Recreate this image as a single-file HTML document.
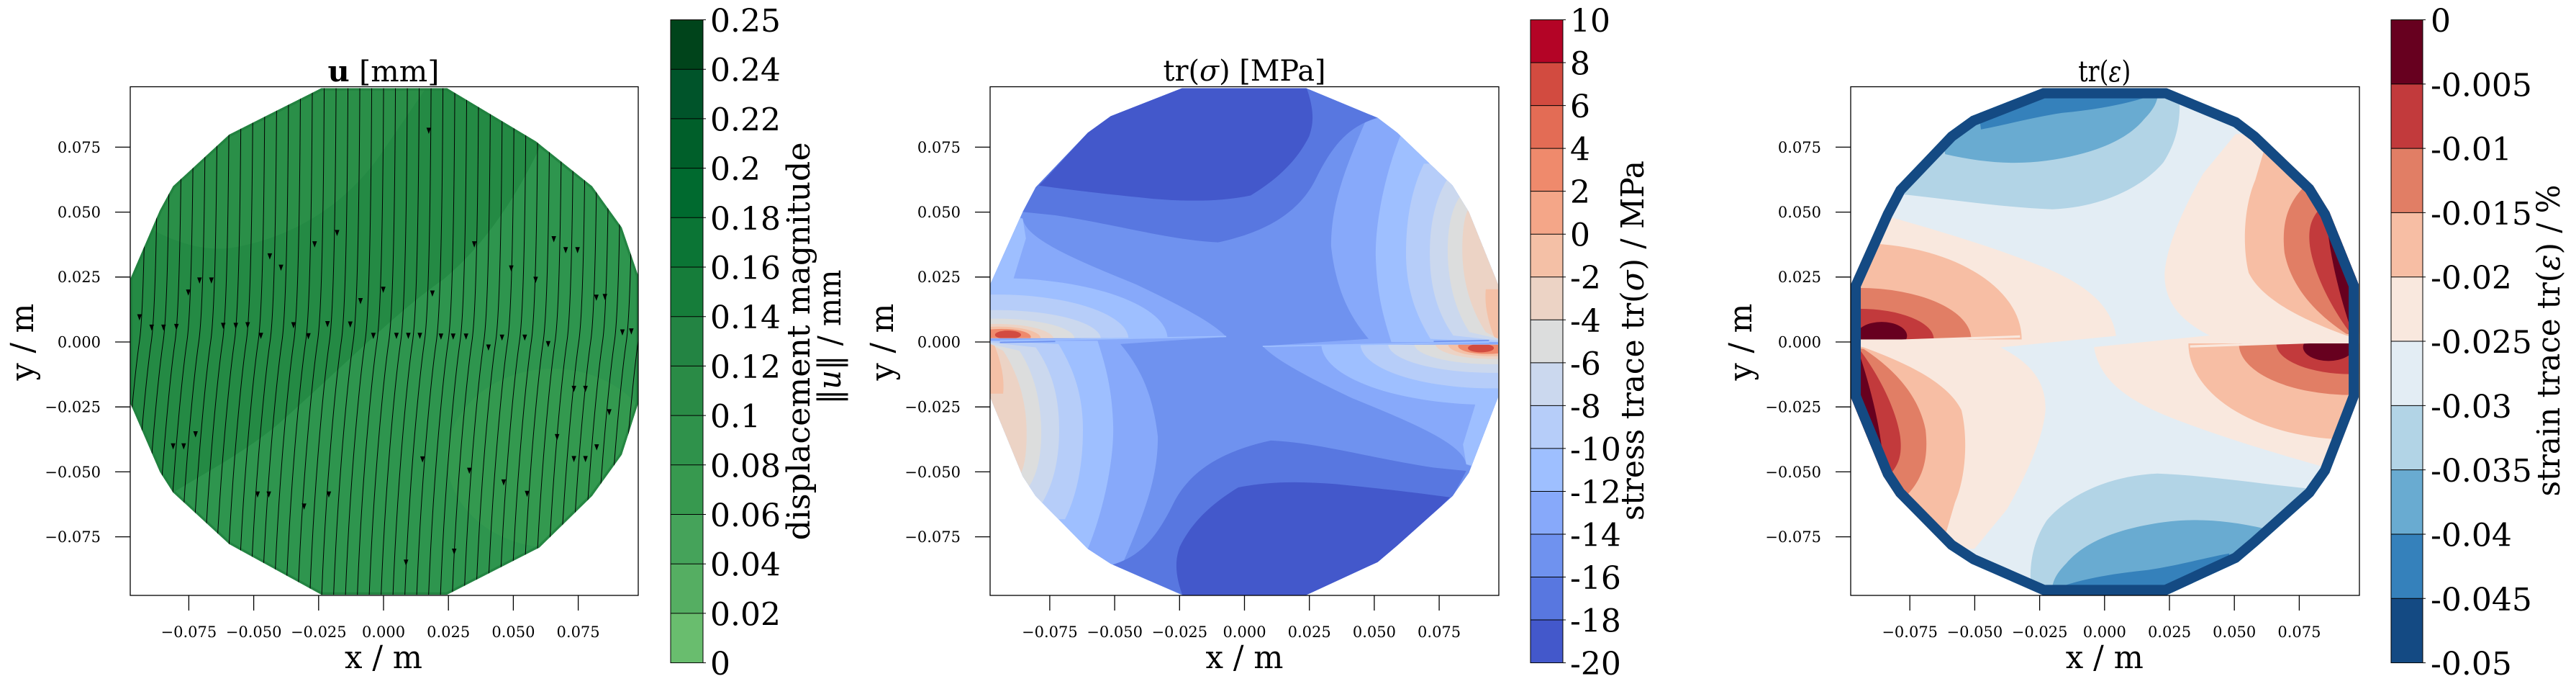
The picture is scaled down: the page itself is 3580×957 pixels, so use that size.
<!DOCTYPE html>
<html><head><meta charset="utf-8"><style>
html,body{margin:0;padding:0;background:#fff;}
body{width:3580px;height:957px;position:relative;overflow:hidden;}
svg{position:absolute;}
text{font-family:"DejaVu Serif","Liberation Serif",serif;fill:#000;}
</style></head><body>

<!-- Panel 1 field -->
<svg style="left:181px;top:120.5px" width="706" height="706.5" viewBox="0 42 1540 1478" preserveAspectRatio="none">
<defs>
<clipPath id="c1"><polygon points="580,45 960,45 1230,200 1400,330 1490,450 1540,590 1540,960 1490,1110 1400,1230 1240,1380 960,1517 580,1517 300,1370 130,1220 90,1160 0,960 0,600 90,400 130,330 300,180"/></clipPath>
<path id="sl" d="M20,40 C18,400 12,700 0,780 S-45,1150 -60,1530" fill="none" stroke="#000" stroke-width="2.2"/>
<path id="ar" d="M-7,-10 L7,-10 L0,8 Z" fill="#000"/>
</defs>
<g clip-path="url(#c1)">
<rect x="0" y="40" width="1540" height="1480" fill="#2e954e"/>
<path fill="#2a8f48" d="M0,40 L0,420 C100,480 200,520 300,510 C500,480 650,380 750,250 L900,40 Z"/>
<path fill="#248a44" d="M0,420 C100,480 200,520 300,510 C500,480 650,380 750,250 L900,40 L1320,40 L1240,220 C1150,400 1050,520 950,600 C800,700 650,850 450,1020 C350,1100 250,1150 130,1220 L0,1220 Z"/>
<ellipse cx="1280" cy="1120" rx="320" ry="260" fill="#33994f"/>
<polygon points="580,45 960,45 1230,200 1400,330 1490,450 1540,590 1540,960 1490,1110 1400,1230 1240,1380 960,1517 580,1517 300,1370 130,1220 90,1160 0,960 0,600 90,400 130,330 300,180" fill="none" stroke="#1f7d3d" stroke-width="14" stroke-opacity="0.7"/>
<use href="#sl" x="28"/><use href="#sl" x="64"/><use href="#sl" x="100"/><use href="#sl" x="136"/><use href="#sl" x="172"/><use href="#sl" x="208"/><use href="#sl" x="244"/><use href="#sl" x="280"/><use href="#sl" x="316"/><use href="#sl" x="352"/><use href="#sl" x="388"/><use href="#sl" x="424"/><use href="#sl" x="460"/><use href="#sl" x="496"/><use href="#sl" x="532"/><use href="#sl" x="568"/><use href="#sl" x="604"/><use href="#sl" x="640"/><use href="#sl" x="676"/><use href="#sl" x="712"/><use href="#sl" x="748"/><use href="#sl" x="784"/><use href="#sl" x="820"/><use href="#sl" x="856"/><use href="#sl" x="892"/><use href="#sl" x="928"/><use href="#sl" x="964"/><use href="#sl" x="1000"/><use href="#sl" x="1036"/><use href="#sl" x="1072"/><use href="#sl" x="1108"/><use href="#sl" x="1144"/><use href="#sl" x="1180"/><use href="#sl" x="1216"/><use href="#sl" x="1252"/><use href="#sl" x="1288"/><use href="#sl" x="1324"/><use href="#sl" x="1360"/><use href="#sl" x="1396"/><use href="#sl" x="1432"/><use href="#sl" x="1468"/><use href="#sl" x="1504"/><use href="#sl" x="1540"/><use href="#sl" x="1576"/>
<use href="#ar" x="905" y="170"/><use href="#ar" x="627" y="467"/><use href="#ar" x="559" y="500"/><use href="#ar" x="423" y="535"/><use href="#ar" x="457" y="568"/><use href="#ar" x="1043" y="500"/><use href="#ar" x="1284" y="485"/><use href="#ar" x="1320" y="517"/><use href="#ar" x="1356" y="517"/><use href="#ar" x="1155" y="570"/><use href="#ar" x="1229" y="603"/><use href="#ar" x="176" y="640"/><use href="#ar" x="210" y="605"/><use href="#ar" x="246" y="605"/><use href="#ar" x="28" y="712"/><use href="#ar" x="65" y="742"/><use href="#ar" x="101" y="742"/><use href="#ar" x="140" y="740"/><use href="#ar" x="282" y="737"/><use href="#ar" x="320" y="737"/><use href="#ar" x="356" y="735"/><use href="#ar" x="396" y="766"/><use href="#ar" x="495" y="735"/><use href="#ar" x="540" y="767"/><use href="#ar" x="598" y="732"/><use href="#ar" x="667" y="733"/><use href="#ar" x="698" y="665"/><use href="#ar" x="767" y="632"/><use href="#ar" x="916" y="643"/><use href="#ar" x="737" y="766"/><use href="#ar" x="807" y="766"/><use href="#ar" x="843" y="766"/><use href="#ar" x="878" y="766"/><use href="#ar" x="942" y="768"/><use href="#ar" x="979" y="768"/><use href="#ar" x="1018" y="768"/><use href="#ar" x="1086" y="800"/><use href="#ar" x="1127" y="771"/><use href="#ar" x="1196" y="771"/><use href="#ar" x="1267" y="790"/><use href="#ar" x="1413" y="655"/><use href="#ar" x="1439" y="653"/><use href="#ar" x="1492" y="756"/><use href="#ar" x="1519" y="753"/><use href="#ar" x="1345" y="920"/><use href="#ar" x="1380" y="920"/><use href="#ar" x="1452" y="988"/><use href="#ar" x="1294" y="1060"/><use href="#ar" x="1345" y="1124"/><use href="#ar" x="1380" y="1124"/><use href="#ar" x="1414" y="1090"/><use href="#ar" x="130" y="1087"/><use href="#ar" x="162" y="1087"/><use href="#ar" x="198" y="1052"/><use href="#ar" x="386" y="1227"/><use href="#ar" x="420" y="1227"/><use href="#ar" x="527" y="1262"/><use href="#ar" x="602" y="1227"/><use href="#ar" x="886" y="1125"/><use href="#ar" x="1028" y="1158"/><use href="#ar" x="1132" y="1192"/><use href="#ar" x="1203" y="1225"/><use href="#ar" x="982" y="1393"/><use href="#ar" x="836" y="1425"/>
</g>
</svg>

<!-- Panel 2 field -->
<svg style="left:1376px;top:120.5px" width="707" height="706.5" viewBox="0 22 1562 1540" preserveAspectRatio="none">
<defs>
<clipPath id="c2"><polygon points="590,25 970,25 1190,115 1250,160 1420,320 1470,400 1560,620 1560,960 1470,1190 1420,1260 1250,1410 1190,1460 970,1560 590,1560 370,1465 300,1420 140,1260 100,1200 0,960 0,620 100,400 140,325 300,160 370,110"/></clipPath>
<clipPath id="u2"><rect x="-10" y="0" width="1600" height="782"/></clipPath>
<g id="LG2">
<path fill="#87a9fa" d="M0,380 L100,420 C110,480 250,540 450,620 C600,690 690,740 725,778 L400,800 C460,870 500,950 515,1080 C515,1200 480,1300 400,1480 L0,1480 Z"/>
<path fill="#9ebfff" d="M0,400 L100,420 L110,480 L60,640 L0,650 Z"/>
<g clip-path="url(#u2)">
<ellipse cx="20" cy="785" rx="525" ry="185" fill="#9ebfff"/>
<ellipse cx="20" cy="785" rx="405" ry="135" fill="#b6cdf9"/>
<ellipse cx="20" cy="785" rx="320" ry="88" fill="#cbd8ee"/>
<ellipse cx="20" cy="785" rx="240" ry="62" fill="#dcdddd"/>
<ellipse cx="20" cy="785" rx="175" ry="46" fill="#ecd3c5"/>
<ellipse cx="25" cy="782" rx="130" ry="35" fill="#f4c0a6"/>
<ellipse cx="35" cy="778" rx="90" ry="24" fill="#ef8a6c"/>
<ellipse cx="55" cy="772" rx="40" ry="13" fill="#d24b40"/>
</g>
<path fill="#9ebfff" d="M0,790 L330,790 C360,880 375,950 378,1050 C380,1150 350,1300 300,1420 L0,1420 Z"/>
<path fill="#b6cdf9" d="M0,790 L210,800 C260,880 285,960 285,1060 C285,1170 265,1260 230,1330 L0,1330 Z"/>
<path fill="#cbd8ee" d="M0,795 L140,810 C190,880 212,960 212,1060 C212,1160 190,1230 160,1280 L0,1280 Z"/>
<path fill="#dcdddd" d="M0,800 L90,820 C130,880 155,960 157,1060 C158,1150 140,1200 120,1230 L0,1230 Z"/>
<path fill="#ecd3c5" d="M0,800 L40,820 C80,880 110,960 112,1060 C113,1130 105,1170 95,1190 L0,1190 Z"/>
<path fill="#f4c0a6" d="M0,800 L14,805 C32,850 45,900 40,950 L0,950 Z"/>
<path d="M30,790 L725,777" stroke="#9ebfff" stroke-width="4" fill="none"/>
<path d="M30,795 L200,792" stroke="#6f92ef" stroke-width="4" fill="none"/>
</g>
<g id="DG2">
<path fill="#5877e0" d="M100,400 L140,325 L300,160 L370,110 L590,25 L970,25 L1190,115 C1100,140 1050,200 1000,300 C950,400 850,460 700,492 C550,485 400,440 200,410 Z"/>
<path fill="#4358cb" d="M590,20 L970,20 C1000,100 990,140 980,170 C950,230 900,290 800,350 C700,370 600,368 500,360 C400,350 300,340 150,320 L170,300 L300,160 L370,110 Z"/>
</g>
</defs>
<g clip-path="url(#c2)">
<rect x="-10" y="0" width="1600" height="1600" fill="#6f92ef"/>
<use href="#LG2"/>
<use href="#LG2" transform="rotate(180 781 792)"/>
<use href="#DG2"/>
<use href="#DG2" transform="rotate(180 781 792)"/>
</g>
</svg>

<!-- Panel 3 field -->
<svg style="left:2572px;top:120.5px" width="707" height="706.5" viewBox="0 22 1562 1540" preserveAspectRatio="none">
<defs>
<clipPath id="c3"><polygon points="590,25 970,25 1190,115 1250,160 1420,320 1470,400 1560,620 1560,960 1470,1190 1420,1260 1250,1410 1190,1460 970,1560 590,1560 370,1465 300,1420 140,1260 100,1200 0,960 0,620 100,400 140,325 300,160 370,110"/></clipPath>
<clipPath id="u3"><rect x="-10" y="0" width="1600" height="786"/></clipPath>
<g id="PG3">
<path fill="#f9e8de" d="M0,400 L120,415 C280,460 450,510 600,570 C720,620 800,680 815,775 L460,810 C560,860 600,920 598,1000 C590,1100 520,1230 480,1300 L380,1420 L0,1420 Z"/>
<g clip-path="url(#u3)">
<ellipse cx="25" cy="785" rx="500" ry="290" fill="#f7bea4"/>
<ellipse cx="25" cy="785" rx="345" ry="155" fill="#e17e65"/>
<ellipse cx="25" cy="785" rx="230" ry="92" fill="#c23a3c"/>
<ellipse cx="95" cy="775" rx="78" ry="42" fill="#67001f"/>
</g>
<path fill="#f7bea4" d="M0,800 L40,810 C180,860 300,920 340,1000 C360,1080 355,1200 320,1280 L290,1380 L0,1380 Z"/>
<path fill="#e17e65" d="M0,810 L40,815 C140,880 210,960 230,1060 C240,1150 220,1210 170,1260 L0,1260 Z"/>
<path fill="#c23a3c" d="M0,815 L30,820 C90,900 140,1000 152,1080 C158,1130 150,1160 125,1190 L0,1190 Z"/>
<path fill="#67001f" d="M0,820 L25,825 C50,900 80,1000 95,1110 L0,1110 Z"/>
<path d="M20,794 L520,777" stroke="#f9e8de" stroke-width="7" fill="none"/>
</g>
<g id="BG3">
<path fill="#b2d4e6" d="M100,0 L140,345 C300,360 450,385 620,392 C780,385 900,320 960,250 C1000,190 1010,130 1010,80 L1000,0 Z"/>
<path fill="#69abd1" d="M250,0 L290,225 C400,250 500,258 600,245 C750,225 850,180 900,120 C930,90 940,70 945,40 L940,0 Z"/>
<path fill="#3581bb" d="M380,0 L400,150 C460,140 550,115 650,100 C750,90 850,75 945,40 L950,0 Z"/>
</g>
</defs>
<g clip-path="url(#c3)">
<rect x="-10" y="0" width="1600" height="1600" fill="#e3edf4"/>
<use href="#PG3"/>
<use href="#PG3" transform="rotate(180 781 792)"/>
<use href="#BG3"/>
<use href="#BG3" transform="rotate(180 781 792)"/>
<polygon points="590,25 970,25 1190,115 1250,160 1420,320 1470,400 1560,620 1560,960 1470,1190 1420,1260 1250,1410 1190,1460 970,1560 590,1560 370,1465 300,1420 140,1260 100,1200 0,960 0,620 100,400 140,325 300,160 370,110" fill="none" stroke="#144a83" stroke-width="62"/>
</g>
</svg>

<!-- Overlay: axes, ticks, colorbars, text -->
<svg style="left:0;top:0" width="3580" height="957" viewBox="0 0 3580 957">
<g fill="none" stroke="#000" stroke-width="1.3">
<rect x="181" y="120.5" width="706" height="706.5"/>
<rect x="1376" y="120.5" width="707" height="706.5"/>
<rect x="2572" y="120.5" width="707" height="706.5"/>
</g>
<g stroke="#000" stroke-width="1.3">
<path d="M160,204.4H181M160,294.6H181M160,384.8H181M160,475H181M160,565.2H181M160,655.4H181M160,745.6H181"/>
<path d="M1355,204.4H1376M1355,294.6H1376M1355,384.8H1376M1355,475H1376M1355,565.2H1376M1355,655.4H1376M1355,745.6H1376"/>
<path d="M2551,204.4H2572M2551,294.6H2572M2551,384.8H2572M2551,475H2572M2551,565.2H2572M2551,655.4H2572M2551,745.6H2572"/>
<path d="M262.4,827V848M352.6,827V848M442.8,827V848M533,827V848M623.2,827V848M713.4,827V848M803.6,827V848"/>
<path d="M1458.9,827V848M1549.1,827V848M1639.3,827V848M1729.5,827V848M1819.7,827V848M1909.9,827V848M2000.1,827V848"/>
<path d="M2654.2,827V848M2744.4,827V848M2834.6,827V848M2924.8,827V848M3015,827V848M3105.2,827V848M3195.4,827V848"/>
</g>
<g font-size="21" text-anchor="end">
<text x="140" y="212">0.075</text><text x="140" y="302">0.050</text><text x="140" y="392">0.025</text><text x="140" y="482.5">0.000</text><text x="140" y="572.5">−0.025</text><text x="140" y="663">−0.050</text><text x="140" y="753">−0.075</text>
<text x="1335" y="212">0.075</text><text x="1335" y="302">0.050</text><text x="1335" y="392">0.025</text><text x="1335" y="482.5">0.000</text><text x="1335" y="572.5">−0.025</text><text x="1335" y="663">−0.050</text><text x="1335" y="753">−0.075</text>
<text x="2531" y="212">0.075</text><text x="2531" y="302">0.050</text><text x="2531" y="392">0.025</text><text x="2531" y="482.5">0.000</text><text x="2531" y="572.5">−0.025</text><text x="2531" y="663">−0.050</text><text x="2531" y="753">−0.075</text>
</g>
<g font-size="21" text-anchor="middle">
<text x="262.4" y="885">−0.075</text><text x="352.6" y="885">−0.050</text><text x="442.8" y="885">−0.025</text><text x="533" y="885">0.000</text><text x="623.2" y="885">0.025</text><text x="713.4" y="885">0.050</text><text x="803.6" y="885">0.075</text>
<text x="1458.9" y="885">−0.075</text><text x="1549.1" y="885">−0.050</text><text x="1639.3" y="885">−0.025</text><text x="1729.5" y="885">0.000</text><text x="1819.7" y="885">0.025</text><text x="1909.9" y="885">0.050</text><text x="2000.1" y="885">0.075</text>
<text x="2654.2" y="885">−0.075</text><text x="2744.4" y="885">−0.050</text><text x="2834.6" y="885">−0.025</text><text x="2924.8" y="885">0.000</text><text x="3015" y="885">0.025</text><text x="3105.2" y="885">0.050</text><text x="3195.4" y="885">0.075</text>
</g>
<g font-size="44" text-anchor="middle">
<text x="533" y="928" textLength="108" lengthAdjust="spacingAndGlyphs">x / m</text>
<text x="1729.5" y="928" textLength="108" lengthAdjust="spacingAndGlyphs">x / m</text>
<text x="2924.8" y="928" textLength="108" lengthAdjust="spacingAndGlyphs">x / m</text>
<text transform="translate(46,475) rotate(-90)" textLength="107" lengthAdjust="spacingAndGlyphs">y / m</text>
<text transform="translate(1241,475) rotate(-90)" textLength="107" lengthAdjust="spacingAndGlyphs">y / m</text>
<text transform="translate(2434,475) rotate(-90)" textLength="107" lengthAdjust="spacingAndGlyphs">y / m</text>
</g>
<g font-size="40" text-anchor="middle">
<text x="533" y="113" textLength="155" lengthAdjust="spacingAndGlyphs"><tspan font-weight="bold">u</tspan> [mm]</text>
<text x="1729.5" y="112" textLength="226" lengthAdjust="spacingAndGlyphs">tr(<tspan font-style="italic">σ</tspan>) [MPa]</text>
<text x="2924.8" y="113" textLength="73" lengthAdjust="spacingAndGlyphs">tr(<tspan font-style="italic">ε</tspan>)</text>
</g>

<!-- colorbar 1 -->
<g>
<rect x="932" y="27.5" width="45" height="68.7" fill="#00441b"/>
<rect x="932" y="96.2" width="45" height="68.7" fill="#00542a"/>
<rect x="932" y="164.9" width="45" height="68.7" fill="#005f2a"/>
<rect x="932" y="233.6" width="45" height="68.7" fill="#006a2f"/>
<rect x="932" y="302.3" width="45" height="68.7" fill="#0b7535"/>
<rect x="932" y="371" width="45" height="68.7" fill="#167d3a"/>
<rect x="932" y="439.7" width="45" height="68.7" fill="#238443"/>
<rect x="932" y="508.4" width="45" height="68.7" fill="#2a8b46"/>
<rect x="932" y="577.1" width="45" height="68.7" fill="#2f924b"/>
<rect x="932" y="645.8" width="45" height="68.7" fill="#37994f"/>
<rect x="932" y="714.5" width="45" height="68.7" fill="#45a35a"/>
<rect x="932" y="783.2" width="45" height="68.7" fill="#55ae62"/>
<rect x="932" y="851.9" width="45" height="68.7" fill="#69bd6e"/>
<g stroke="#000" stroke-width="1">
<path d="M932,96.2H981M932,164.9H981M932,233.6H981M932,302.3H981M932,371H981M932,439.7H981M932,508.4H981M932,577.1H981M932,645.8H981M932,714.5H981M932,783.2H981M932,851.9H981M977,27.5H981M977,920.6H981"/>
<rect x="932" y="27.5" width="45" height="893.1" fill="none"/>
</g>
<g font-size="44">
<text x="987" y="44">0.25</text><text x="987" y="112.7">0.24</text><text x="987" y="181.4">0.22</text><text x="987" y="250.1">0.2</text><text x="987" y="318.8">0.18</text><text x="987" y="387.5">0.16</text><text x="987" y="456.2">0.14</text><text x="987" y="524.9">0.12</text><text x="987" y="593.6">0.1</text><text x="987" y="662.3">0.08</text><text x="987" y="731">0.06</text><text x="987" y="799.7">0.04</text><text x="987" y="868.4">0.02</text><text x="987" y="937.1">0</text>
</g>
<g font-size="44" text-anchor="middle">
<text transform="translate(1125,474) rotate(-90)" textLength="553" lengthAdjust="spacingAndGlyphs">displacement magnitude</text>
<text transform="translate(1168,468) rotate(-90)" textLength="187" lengthAdjust="spacingAndGlyphs">‖<tspan font-style="italic">u</tspan>‖ / mm</text>
</g>
</g>

<!-- colorbar 2 -->
<g>
<rect x="2127" y="27.5" width="45" height="59.54" fill="#b40426"/>
<rect x="2127" y="87.04" width="45" height="59.54" fill="#d24b40"/>
<rect x="2127" y="146.58" width="45" height="59.54" fill="#e36c55"/>
<rect x="2127" y="206.12" width="45" height="59.54" fill="#ef8a6c"/>
<rect x="2127" y="265.66" width="45" height="59.54" fill="#f4a688"/>
<rect x="2127" y="325.2" width="45" height="59.54" fill="#f4c0a6"/>
<rect x="2127" y="384.74" width="45" height="59.54" fill="#ecd3c5"/>
<rect x="2127" y="444.28" width="45" height="59.54" fill="#dcdddd"/>
<rect x="2127" y="503.82" width="45" height="59.54" fill="#cbd8ee"/>
<rect x="2127" y="563.36" width="45" height="59.54" fill="#b6cdf9"/>
<rect x="2127" y="622.9" width="45" height="59.54" fill="#9ebfff"/>
<rect x="2127" y="682.44" width="45" height="59.54" fill="#87a9fa"/>
<rect x="2127" y="741.98" width="45" height="59.54" fill="#6f92ef"/>
<rect x="2127" y="801.52" width="45" height="59.54" fill="#5877e0"/>
<rect x="2127" y="861.06" width="45" height="59.54" fill="#4358cb"/>
<g stroke="#000" stroke-width="1">
<path d="M2127,87.04H2176M2127,146.58H2176M2127,206.12H2176M2127,265.66H2176M2127,325.2H2176M2127,384.74H2176M2127,444.28H2176M2127,503.82H2176M2127,563.36H2176M2127,622.9H2176M2127,682.44H2176M2127,741.98H2176M2127,801.52H2176M2127,861.06H2176M2172,27.5H2176M2172,920.6H2176"/>
<rect x="2127" y="27.5" width="45" height="893.1" fill="none"/>
</g>
<g font-size="44">
<text x="2182" y="44">10</text><text x="2182" y="103.5">8</text><text x="2182" y="163">6</text><text x="2182" y="222.6">4</text><text x="2182" y="282.2">2</text><text x="2182" y="341.7">0</text><text x="2182" y="401.2">-2</text><text x="2182" y="460.8">-4</text><text x="2182" y="520.3">-6</text><text x="2182" y="579.9">-8</text><text x="2182" y="639.4">-10</text><text x="2182" y="698.9">-12</text><text x="2182" y="758.5">-14</text><text x="2182" y="818">-16</text><text x="2182" y="877.6">-18</text><text x="2182" y="937.1">-20</text>
</g>
<text font-size="44" text-anchor="middle" transform="translate(2284,473) rotate(-90)" textLength="500" lengthAdjust="spacingAndGlyphs">stress trace tr(<tspan font-style="italic">σ</tspan>) / MPa</text>
</g>

<!-- colorbar 3 -->
<g>
<rect x="3323" y="27.5" width="44" height="89.31" fill="#67001f"/>
<rect x="3323" y="116.81" width="44" height="89.31" fill="#c23a3c"/>
<rect x="3323" y="206.12" width="44" height="89.31" fill="#e17e65"/>
<rect x="3323" y="295.43" width="44" height="89.31" fill="#f7bea4"/>
<rect x="3323" y="384.74" width="44" height="89.31" fill="#f9e8de"/>
<rect x="3323" y="474.05" width="44" height="89.31" fill="#e3edf4"/>
<rect x="3323" y="563.36" width="44" height="89.31" fill="#b2d4e6"/>
<rect x="3323" y="652.67" width="44" height="89.31" fill="#69abd1"/>
<rect x="3323" y="741.98" width="44" height="89.31" fill="#3581bb"/>
<rect x="3323" y="831.29" width="44" height="89.31" fill="#144a83"/>
<g stroke="#000" stroke-width="1">
<path d="M3323,116.81H3371M3323,206.12H3371M3323,295.43H3371M3323,384.74H3371M3323,474.05H3371M3323,563.36H3371M3323,652.67H3371M3323,741.98H3371M3323,831.29H3371M3367,27.5H3371M3367,920.6H3371"/>
<rect x="3323" y="27.5" width="44" height="893.1" fill="none"/>
</g>
<g font-size="44">
<text x="3378" y="44">0</text><text x="3378" y="133.3">-0.005</text><text x="3378" y="222.6">-0.01</text><text x="3378" y="311.9">-0.015</text><text x="3378" y="401.2">-0.02</text><text x="3378" y="490.5">-0.025</text><text x="3378" y="579.9">-0.03</text><text x="3378" y="669.2">-0.035</text><text x="3378" y="758.5">-0.04</text><text x="3378" y="847.8">-0.045</text><text x="3378" y="937.1">-0.05</text>
</g>
<text font-size="44" text-anchor="middle" transform="translate(3557,473) rotate(-90)" textLength="433" lengthAdjust="spacingAndGlyphs">strain trace tr(<tspan font-style="italic">ε</tspan>) / %</text>
</g>
</svg>
</body></html>
